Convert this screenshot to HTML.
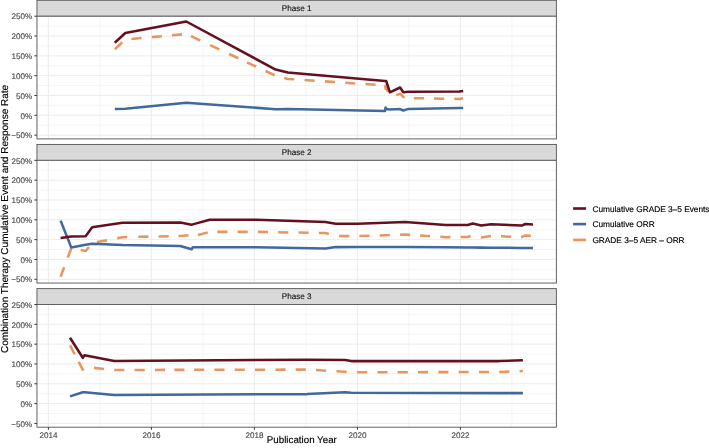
<!DOCTYPE html><html><head><meta charset="utf-8"><style>html,body{margin:0;padding:0;background:#fff;width:709px;height:448px;overflow:hidden}svg{display:block;will-change:transform}text{text-rendering:geometricPrecision;font-family:"Liberation Sans",sans-serif;stroke-width:0.15px}</style></head><body>
<svg width="709" height="448" viewBox="0 0 709 448">
<rect width="709" height="448" fill="#fff"/>
<rect x="36.95" y="0.29999999999999893" width="519.4499999999999" height="15.9" fill="#d9d9d9" stroke="#5e5e5e" stroke-width="0.97"/>
<text x="296.68" y="10.80" font-size="8.15" fill="#1a1a1a" stroke="#1a1a1a" text-anchor="middle">Phase 1</text>
<line x1="36.95" x2="556.4" y1="26.11" y2="26.11" stroke="#ebebeb" stroke-width="0.5"/><line x1="36.95" x2="556.4" y1="45.93" y2="45.93" stroke="#ebebeb" stroke-width="0.5"/><line x1="36.95" x2="556.4" y1="65.75" y2="65.75" stroke="#ebebeb" stroke-width="0.5"/><line x1="36.95" x2="556.4" y1="85.57" y2="85.57" stroke="#ebebeb" stroke-width="0.5"/><line x1="36.95" x2="556.4" y1="105.39" y2="105.39" stroke="#ebebeb" stroke-width="0.5"/><line x1="36.95" x2="556.4" y1="125.21" y2="125.21" stroke="#ebebeb" stroke-width="0.5"/><line x1="99.90" x2="99.90" y1="16.2" y2="138.9" stroke="#ebebeb" stroke-width="0.5"/><line x1="202.90" x2="202.90" y1="16.2" y2="138.9" stroke="#ebebeb" stroke-width="0.5"/><line x1="305.90" x2="305.90" y1="16.2" y2="138.9" stroke="#ebebeb" stroke-width="0.5"/><line x1="408.90" x2="408.90" y1="16.2" y2="138.9" stroke="#ebebeb" stroke-width="0.5"/><line x1="511.90" x2="511.90" y1="16.2" y2="138.9" stroke="#ebebeb" stroke-width="0.5"/><line x1="36.95" x2="556.4" y1="16.20" y2="16.20" stroke="#ebebeb" stroke-width="0.97"/><line x1="36.95" x2="556.4" y1="36.02" y2="36.02" stroke="#ebebeb" stroke-width="0.97"/><line x1="36.95" x2="556.4" y1="55.84" y2="55.84" stroke="#ebebeb" stroke-width="0.97"/><line x1="36.95" x2="556.4" y1="75.66" y2="75.66" stroke="#ebebeb" stroke-width="0.97"/><line x1="36.95" x2="556.4" y1="95.48" y2="95.48" stroke="#ebebeb" stroke-width="0.97"/><line x1="36.95" x2="556.4" y1="115.30" y2="115.30" stroke="#ebebeb" stroke-width="0.97"/><line x1="36.95" x2="556.4" y1="135.12" y2="135.12" stroke="#ebebeb" stroke-width="0.97"/><line x1="48.40" x2="48.40" y1="16.2" y2="138.9" stroke="#ebebeb" stroke-width="0.97"/><line x1="151.40" x2="151.40" y1="16.2" y2="138.9" stroke="#ebebeb" stroke-width="0.97"/><line x1="254.40" x2="254.40" y1="16.2" y2="138.9" stroke="#ebebeb" stroke-width="0.97"/><line x1="357.40" x2="357.40" y1="16.2" y2="138.9" stroke="#ebebeb" stroke-width="0.97"/><line x1="460.40" x2="460.40" y1="16.2" y2="138.9" stroke="#ebebeb" stroke-width="0.97"/>
<path d="M114.80,49.20 L122.26,42.31 M131.40,38.95 L141.51,38.04 M151.80,37.11 L161.91,36.20 M171.90,35.30 L182.01,34.39 M191.00,36.19 L200.20,40.49 M210.10,45.11 L219.30,49.41 M229.10,53.99 L238.30,58.28 M246.90,62.30 L256.10,66.59 M265.50,70.98 L274.70,75.28 M284.20,77.96 L287.80,78.90 L294.21,79.33 M304.50,80.02 L314.63,80.69 M324.90,81.38 L335.03,82.06 M345.20,82.74 L355.33,83.42 M365.50,84.10 L375.63,84.77 M384.60,85.37 L385.00,85.40 L385.60,88.70 L386.20,87.30 L387.77,91.91 M396.30,95.38 L400.10,93.70 L403.30,97.00 L404.67,97.29 M413.80,98.18 L423.95,98.34 M434.00,98.50 L444.15,98.66 M454.30,98.82 L459.20,98.90 L463.20,98.30" fill="none" stroke="#e8965f" stroke-width="2.55" stroke-linejoin="round" stroke-linecap="butt"/>
<polyline points="114.80,108.90 125.30,108.80 186.30,102.80 275.60,109.20 287.80,109.00 385.00,110.90 385.60,107.60 386.20,109.00 389.90,109.40 400.10,109.10 403.30,110.50 408.50,108.90 459.20,108.00 463.20,107.90" fill="none" stroke="#41699b" stroke-width="2.55" stroke-linejoin="round"/>
<polyline points="114.80,42.80 125.30,33.00 186.30,21.50 275.60,69.60 287.80,72.60 385.00,81.00 385.60,81.00 386.20,81.00 389.90,92.30 400.10,87.50 403.30,92.20 408.50,91.70 459.20,91.60 463.20,90.90" fill="none" stroke="#66101f" stroke-width="2.55" stroke-linejoin="round"/>
<rect x="36.95" y="16.2" width="519.4499999999999" height="122.7" fill="none" stroke="#5e5e5e" stroke-width="0.97"/>
<line x1="34.35" x2="36.95" y1="16.20" y2="16.20" stroke="#333" stroke-width="0.97"/>
<text x="32.1" y="19.40" font-size="8.1" fill="#4d4d4d" stroke="#4d4d4d" text-anchor="end">250%</text>
<line x1="34.35" x2="36.95" y1="36.02" y2="36.02" stroke="#333" stroke-width="0.97"/>
<text x="32.1" y="39.22" font-size="8.1" fill="#4d4d4d" stroke="#4d4d4d" text-anchor="end">200%</text>
<line x1="34.35" x2="36.95" y1="55.84" y2="55.84" stroke="#333" stroke-width="0.97"/>
<text x="32.1" y="59.04" font-size="8.1" fill="#4d4d4d" stroke="#4d4d4d" text-anchor="end">150%</text>
<line x1="34.35" x2="36.95" y1="75.66" y2="75.66" stroke="#333" stroke-width="0.97"/>
<text x="32.1" y="78.86" font-size="8.1" fill="#4d4d4d" stroke="#4d4d4d" text-anchor="end">100%</text>
<line x1="34.35" x2="36.95" y1="95.48" y2="95.48" stroke="#333" stroke-width="0.97"/>
<text x="32.1" y="98.68" font-size="8.1" fill="#4d4d4d" stroke="#4d4d4d" text-anchor="end">50%</text>
<line x1="34.35" x2="36.95" y1="115.30" y2="115.30" stroke="#333" stroke-width="0.97"/>
<text x="32.1" y="118.50" font-size="8.1" fill="#4d4d4d" stroke="#4d4d4d" text-anchor="end">0%</text>
<line x1="34.35" x2="36.95" y1="135.12" y2="135.12" stroke="#333" stroke-width="0.97"/>
<text x="32.1" y="138.32" font-size="8.1" fill="#4d4d4d" stroke="#4d4d4d" text-anchor="end">−50%</text>
<rect x="36.95" y="144.45" width="519.4499999999999" height="15.9" fill="#d9d9d9" stroke="#5e5e5e" stroke-width="0.97"/>
<text x="296.68" y="154.95" font-size="8.15" fill="#1a1a1a" stroke="#1a1a1a" text-anchor="middle">Phase 2</text>
<line x1="36.95" x2="556.4" y1="170.26" y2="170.26" stroke="#ebebeb" stroke-width="0.5"/><line x1="36.95" x2="556.4" y1="190.08" y2="190.08" stroke="#ebebeb" stroke-width="0.5"/><line x1="36.95" x2="556.4" y1="209.90" y2="209.90" stroke="#ebebeb" stroke-width="0.5"/><line x1="36.95" x2="556.4" y1="229.72" y2="229.72" stroke="#ebebeb" stroke-width="0.5"/><line x1="36.95" x2="556.4" y1="249.54" y2="249.54" stroke="#ebebeb" stroke-width="0.5"/><line x1="36.95" x2="556.4" y1="269.36" y2="269.36" stroke="#ebebeb" stroke-width="0.5"/><line x1="99.90" x2="99.90" y1="160.35" y2="283.05" stroke="#ebebeb" stroke-width="0.5"/><line x1="202.90" x2="202.90" y1="160.35" y2="283.05" stroke="#ebebeb" stroke-width="0.5"/><line x1="305.90" x2="305.90" y1="160.35" y2="283.05" stroke="#ebebeb" stroke-width="0.5"/><line x1="408.90" x2="408.90" y1="160.35" y2="283.05" stroke="#ebebeb" stroke-width="0.5"/><line x1="511.90" x2="511.90" y1="160.35" y2="283.05" stroke="#ebebeb" stroke-width="0.5"/><line x1="36.95" x2="556.4" y1="160.35" y2="160.35" stroke="#ebebeb" stroke-width="0.97"/><line x1="36.95" x2="556.4" y1="180.17" y2="180.17" stroke="#ebebeb" stroke-width="0.97"/><line x1="36.95" x2="556.4" y1="199.99" y2="199.99" stroke="#ebebeb" stroke-width="0.97"/><line x1="36.95" x2="556.4" y1="219.81" y2="219.81" stroke="#ebebeb" stroke-width="0.97"/><line x1="36.95" x2="556.4" y1="239.63" y2="239.63" stroke="#ebebeb" stroke-width="0.97"/><line x1="36.95" x2="556.4" y1="259.45" y2="259.45" stroke="#ebebeb" stroke-width="0.97"/><line x1="36.95" x2="556.4" y1="279.27" y2="279.27" stroke="#ebebeb" stroke-width="0.97"/><line x1="48.40" x2="48.40" y1="160.35" y2="283.05" stroke="#ebebeb" stroke-width="0.97"/><line x1="151.40" x2="151.40" y1="160.35" y2="283.05" stroke="#ebebeb" stroke-width="0.97"/><line x1="254.40" x2="254.40" y1="160.35" y2="283.05" stroke="#ebebeb" stroke-width="0.97"/><line x1="357.40" x2="357.40" y1="160.35" y2="283.05" stroke="#ebebeb" stroke-width="0.97"/><line x1="460.40" x2="460.40" y1="160.35" y2="283.05" stroke="#ebebeb" stroke-width="0.97"/>
<path d="M60.60,276.75 L64.16,267.24 M67.80,257.53 L71.20,248.45 L71.65,248.53 M80.70,250.10 L85.60,250.95 L88.92,246.98 M97.00,242.11 L106.96,240.17 M117.20,238.17 L122.40,237.15 L127.25,237.05 M138.30,236.82 L148.45,236.61 M158.60,236.40 L168.75,236.19 M178.40,235.99 L180.30,235.95 L188.51,235.15 M198.00,235.07 L207.79,232.38 M217.30,231.85 L227.45,231.85 M237.60,231.85 L247.75,231.85 M257.90,231.88 L268.05,232.06 M278.20,232.23 L288.35,232.41 M298.50,232.58 L308.65,232.76 M318.80,232.93 L325.50,233.05 L328.81,234.02 M339.10,236.07 L349.25,236.11 M359.40,236.09 L369.54,235.75 M379.70,235.41 L389.84,235.06 M400.00,234.72 L405.10,234.55 L410.14,234.87 M420.00,235.50 L430.13,236.15 M440.30,236.80 L445.70,237.15 L450.44,237.11 M460.60,237.01 L467.70,236.95 L470.63,236.09 M480.90,237.38 L481.20,237.45 L490.93,235.99 M501.00,236.34 L511.14,236.73 M521.10,237.13 L521.70,237.15 L525.40,235.45 L530.87,235.74" fill="none" stroke="#e8965f" stroke-width="2.55" stroke-linejoin="round" stroke-linecap="butt"/>
<polyline points="60.60,220.60 71.20,247.40 85.60,244.80 92.20,243.70 122.40,245.00 180.30,246.00 191.60,249.30 192.80,247.30 209.70,247.30 256.20,247.30 325.50,248.40 335.70,247.10 357.70,247.00 405.10,246.90 445.70,247.30 467.70,247.50 472.80,247.60 481.20,247.60 491.20,247.70 521.70,247.90 525.40,248.00 533.00,248.00" fill="none" stroke="#41699b" stroke-width="2.55" stroke-linejoin="round"/>
<polyline points="60.60,237.90 71.20,236.40 85.60,236.30 92.20,227.30 122.40,222.70 180.30,222.50 191.60,224.70 192.80,224.35 209.70,219.70 256.20,219.70 325.50,222.00 335.70,223.70 357.70,223.70 405.10,222.00 445.70,225.00 467.70,225.00 472.80,223.60 481.20,225.60 491.20,224.20 521.70,225.60 525.40,224.00 533.00,224.40" fill="none" stroke="#66101f" stroke-width="2.55" stroke-linejoin="round"/>
<rect x="36.95" y="160.35" width="519.4499999999999" height="122.7" fill="none" stroke="#5e5e5e" stroke-width="0.97"/>
<line x1="34.35" x2="36.95" y1="160.35" y2="160.35" stroke="#333" stroke-width="0.97"/>
<text x="32.1" y="163.55" font-size="8.1" fill="#4d4d4d" stroke="#4d4d4d" text-anchor="end">250%</text>
<line x1="34.35" x2="36.95" y1="180.17" y2="180.17" stroke="#333" stroke-width="0.97"/>
<text x="32.1" y="183.37" font-size="8.1" fill="#4d4d4d" stroke="#4d4d4d" text-anchor="end">200%</text>
<line x1="34.35" x2="36.95" y1="199.99" y2="199.99" stroke="#333" stroke-width="0.97"/>
<text x="32.1" y="203.19" font-size="8.1" fill="#4d4d4d" stroke="#4d4d4d" text-anchor="end">150%</text>
<line x1="34.35" x2="36.95" y1="219.81" y2="219.81" stroke="#333" stroke-width="0.97"/>
<text x="32.1" y="223.01" font-size="8.1" fill="#4d4d4d" stroke="#4d4d4d" text-anchor="end">100%</text>
<line x1="34.35" x2="36.95" y1="239.63" y2="239.63" stroke="#333" stroke-width="0.97"/>
<text x="32.1" y="242.83" font-size="8.1" fill="#4d4d4d" stroke="#4d4d4d" text-anchor="end">50%</text>
<line x1="34.35" x2="36.95" y1="259.45" y2="259.45" stroke="#333" stroke-width="0.97"/>
<text x="32.1" y="262.65" font-size="8.1" fill="#4d4d4d" stroke="#4d4d4d" text-anchor="end">0%</text>
<line x1="34.35" x2="36.95" y1="279.27" y2="279.27" stroke="#333" stroke-width="0.97"/>
<text x="32.1" y="282.47" font-size="8.1" fill="#4d4d4d" stroke="#4d4d4d" text-anchor="end">−50%</text>
<rect x="36.95" y="288.6" width="519.4499999999999" height="15.9" fill="#d9d9d9" stroke="#5e5e5e" stroke-width="0.97"/>
<text x="296.68" y="299.10" font-size="8.15" fill="#1a1a1a" stroke="#1a1a1a" text-anchor="middle">Phase 3</text>
<line x1="36.95" x2="556.4" y1="314.41" y2="314.41" stroke="#ebebeb" stroke-width="0.5"/><line x1="36.95" x2="556.4" y1="334.23" y2="334.23" stroke="#ebebeb" stroke-width="0.5"/><line x1="36.95" x2="556.4" y1="354.05" y2="354.05" stroke="#ebebeb" stroke-width="0.5"/><line x1="36.95" x2="556.4" y1="373.87" y2="373.87" stroke="#ebebeb" stroke-width="0.5"/><line x1="36.95" x2="556.4" y1="393.69" y2="393.69" stroke="#ebebeb" stroke-width="0.5"/><line x1="36.95" x2="556.4" y1="413.51" y2="413.51" stroke="#ebebeb" stroke-width="0.5"/><line x1="99.90" x2="99.90" y1="304.5" y2="427.2" stroke="#ebebeb" stroke-width="0.5"/><line x1="202.90" x2="202.90" y1="304.5" y2="427.2" stroke="#ebebeb" stroke-width="0.5"/><line x1="305.90" x2="305.90" y1="304.5" y2="427.2" stroke="#ebebeb" stroke-width="0.5"/><line x1="408.90" x2="408.90" y1="304.5" y2="427.2" stroke="#ebebeb" stroke-width="0.5"/><line x1="511.90" x2="511.90" y1="304.5" y2="427.2" stroke="#ebebeb" stroke-width="0.5"/><line x1="36.95" x2="556.4" y1="304.50" y2="304.50" stroke="#ebebeb" stroke-width="0.97"/><line x1="36.95" x2="556.4" y1="324.32" y2="324.32" stroke="#ebebeb" stroke-width="0.97"/><line x1="36.95" x2="556.4" y1="344.14" y2="344.14" stroke="#ebebeb" stroke-width="0.97"/><line x1="36.95" x2="556.4" y1="363.96" y2="363.96" stroke="#ebebeb" stroke-width="0.97"/><line x1="36.95" x2="556.4" y1="383.78" y2="383.78" stroke="#ebebeb" stroke-width="0.97"/><line x1="36.95" x2="556.4" y1="403.60" y2="403.60" stroke="#ebebeb" stroke-width="0.97"/><line x1="36.95" x2="556.4" y1="423.42" y2="423.42" stroke="#ebebeb" stroke-width="0.97"/><line x1="48.40" x2="48.40" y1="304.5" y2="427.2" stroke="#ebebeb" stroke-width="0.97"/><line x1="151.40" x2="151.40" y1="304.5" y2="427.2" stroke="#ebebeb" stroke-width="0.97"/><line x1="254.40" x2="254.40" y1="304.5" y2="427.2" stroke="#ebebeb" stroke-width="0.97"/><line x1="357.40" x2="357.40" y1="304.5" y2="427.2" stroke="#ebebeb" stroke-width="0.97"/><line x1="460.40" x2="460.40" y1="304.5" y2="427.2" stroke="#ebebeb" stroke-width="0.97"/>
<path d="M70.00,345.30 L74.73,354.28 M78.70,361.82 L82.80,369.60 L83.52,368.46 M93.90,367.88 L104.00,368.93 M114.20,370.00 L124.35,369.98 M134.60,369.96 L144.75,369.94 M154.90,369.92 L165.05,369.89 M174.30,369.88 L184.45,369.85 M194.10,369.83 L204.25,369.81 M214.40,369.79 L224.55,369.77 M234.70,369.75 L244.85,369.73 M255.00,369.71 L265.15,369.69 M275.40,369.67 L285.55,369.64 M295.70,369.62 L305.85,369.60 M316.00,370.09 L326.13,370.65 M336.50,371.23 L345.00,371.70 L346.63,371.86 M357.10,372.29 L367.25,372.27 M377.40,372.25 L387.55,372.23 M397.70,372.21 L407.85,372.19 M418.00,372.16 L428.15,372.14 M438.30,372.12 L448.45,372.10 M458.60,372.08 L468.75,372.06 M478.90,372.04 L489.05,372.02 M499.20,372.00 L509.34,371.61 M519.60,371.23 L522.90,371.10" fill="none" stroke="#e8965f" stroke-width="2.55" stroke-linejoin="round" stroke-linecap="butt"/>
<polyline points="70.00,396.40 82.80,392.20 84.50,392.30 114.20,395.00 307.10,394.10 345.00,392.30 351.20,392.80 499.20,393.10 522.90,393.10" fill="none" stroke="#41699b" stroke-width="2.55" stroke-linejoin="round"/>
<polyline points="70.00,337.70 82.80,357.80 84.50,355.20 114.20,361.00 307.10,359.70 345.00,360.00 351.20,361.10 499.20,361.10 522.90,360.20" fill="none" stroke="#66101f" stroke-width="2.55" stroke-linejoin="round"/>
<rect x="36.95" y="304.5" width="519.4499999999999" height="122.7" fill="none" stroke="#5e5e5e" stroke-width="0.97"/>
<line x1="34.35" x2="36.95" y1="304.50" y2="304.50" stroke="#333" stroke-width="0.97"/>
<text x="32.1" y="307.70" font-size="8.1" fill="#4d4d4d" stroke="#4d4d4d" text-anchor="end">250%</text>
<line x1="34.35" x2="36.95" y1="324.32" y2="324.32" stroke="#333" stroke-width="0.97"/>
<text x="32.1" y="327.52" font-size="8.1" fill="#4d4d4d" stroke="#4d4d4d" text-anchor="end">200%</text>
<line x1="34.35" x2="36.95" y1="344.14" y2="344.14" stroke="#333" stroke-width="0.97"/>
<text x="32.1" y="347.34" font-size="8.1" fill="#4d4d4d" stroke="#4d4d4d" text-anchor="end">150%</text>
<line x1="34.35" x2="36.95" y1="363.96" y2="363.96" stroke="#333" stroke-width="0.97"/>
<text x="32.1" y="367.16" font-size="8.1" fill="#4d4d4d" stroke="#4d4d4d" text-anchor="end">100%</text>
<line x1="34.35" x2="36.95" y1="383.78" y2="383.78" stroke="#333" stroke-width="0.97"/>
<text x="32.1" y="386.98" font-size="8.1" fill="#4d4d4d" stroke="#4d4d4d" text-anchor="end">50%</text>
<line x1="34.35" x2="36.95" y1="403.60" y2="403.60" stroke="#333" stroke-width="0.97"/>
<text x="32.1" y="406.80" font-size="8.1" fill="#4d4d4d" stroke="#4d4d4d" text-anchor="end">0%</text>
<line x1="34.35" x2="36.95" y1="423.42" y2="423.42" stroke="#333" stroke-width="0.97"/>
<text x="32.1" y="426.62" font-size="8.1" fill="#4d4d4d" stroke="#4d4d4d" text-anchor="end">−50%</text>
<line x1="48.40" x2="48.40" y1="427.20" y2="429.80" stroke="#333" stroke-width="0.97"/>
<text x="48.40" y="437.8" font-size="8.1" fill="#4d4d4d" stroke="#4d4d4d" text-anchor="middle">2014</text>
<line x1="151.40" x2="151.40" y1="427.20" y2="429.80" stroke="#333" stroke-width="0.97"/>
<text x="151.40" y="437.8" font-size="8.1" fill="#4d4d4d" stroke="#4d4d4d" text-anchor="middle">2016</text>
<line x1="254.40" x2="254.40" y1="427.20" y2="429.80" stroke="#333" stroke-width="0.97"/>
<text x="254.40" y="437.8" font-size="8.1" fill="#4d4d4d" stroke="#4d4d4d" text-anchor="middle">2018</text>
<line x1="357.40" x2="357.40" y1="427.20" y2="429.80" stroke="#333" stroke-width="0.97"/>
<text x="357.40" y="437.8" font-size="8.1" fill="#4d4d4d" stroke="#4d4d4d" text-anchor="middle">2020</text>
<line x1="460.40" x2="460.40" y1="427.20" y2="429.80" stroke="#333" stroke-width="0.97"/>
<text x="460.40" y="437.8" font-size="8.1" fill="#4d4d4d" stroke="#4d4d4d" text-anchor="middle">2022</text>
<text x="266.85" y="442.75" font-size="9.8" fill="#000" stroke="#000" textLength="70" lengthAdjust="spacingAndGlyphs">Publication Year</text>
<text transform="translate(7.8,353.0) rotate(-90)" x="0" y="0" font-size="10" fill="#000" stroke="#000" textLength="268.2" lengthAdjust="spacingAndGlyphs">Combination Therapy Cumulative Event and Response Rate</text>
<line x1="573.1" x2="586.1" y1="208.5" y2="208.5" stroke="#66101f" stroke-width="2.6"/>
<text x="592.4" y="211.8" font-size="8.3" fill="#000" stroke="#000">Cumulative GRADE 3–5 Events</text>
<line x1="573.1" x2="586.1" y1="224.1" y2="224.1" stroke="#41699b" stroke-width="2.6"/>
<text x="592.4" y="227.4" font-size="8.3" fill="#000" stroke="#000">Cumulative ORR</text>
<line x1="573.1" x2="586.1" y1="239.9" y2="239.9" stroke="#e8965f" stroke-width="2.6"/>
<text x="592.4" y="242.8" font-size="8.3" fill="#000" stroke="#000">GRADE 3–5 AER – ORR</text>
</svg></body></html>
